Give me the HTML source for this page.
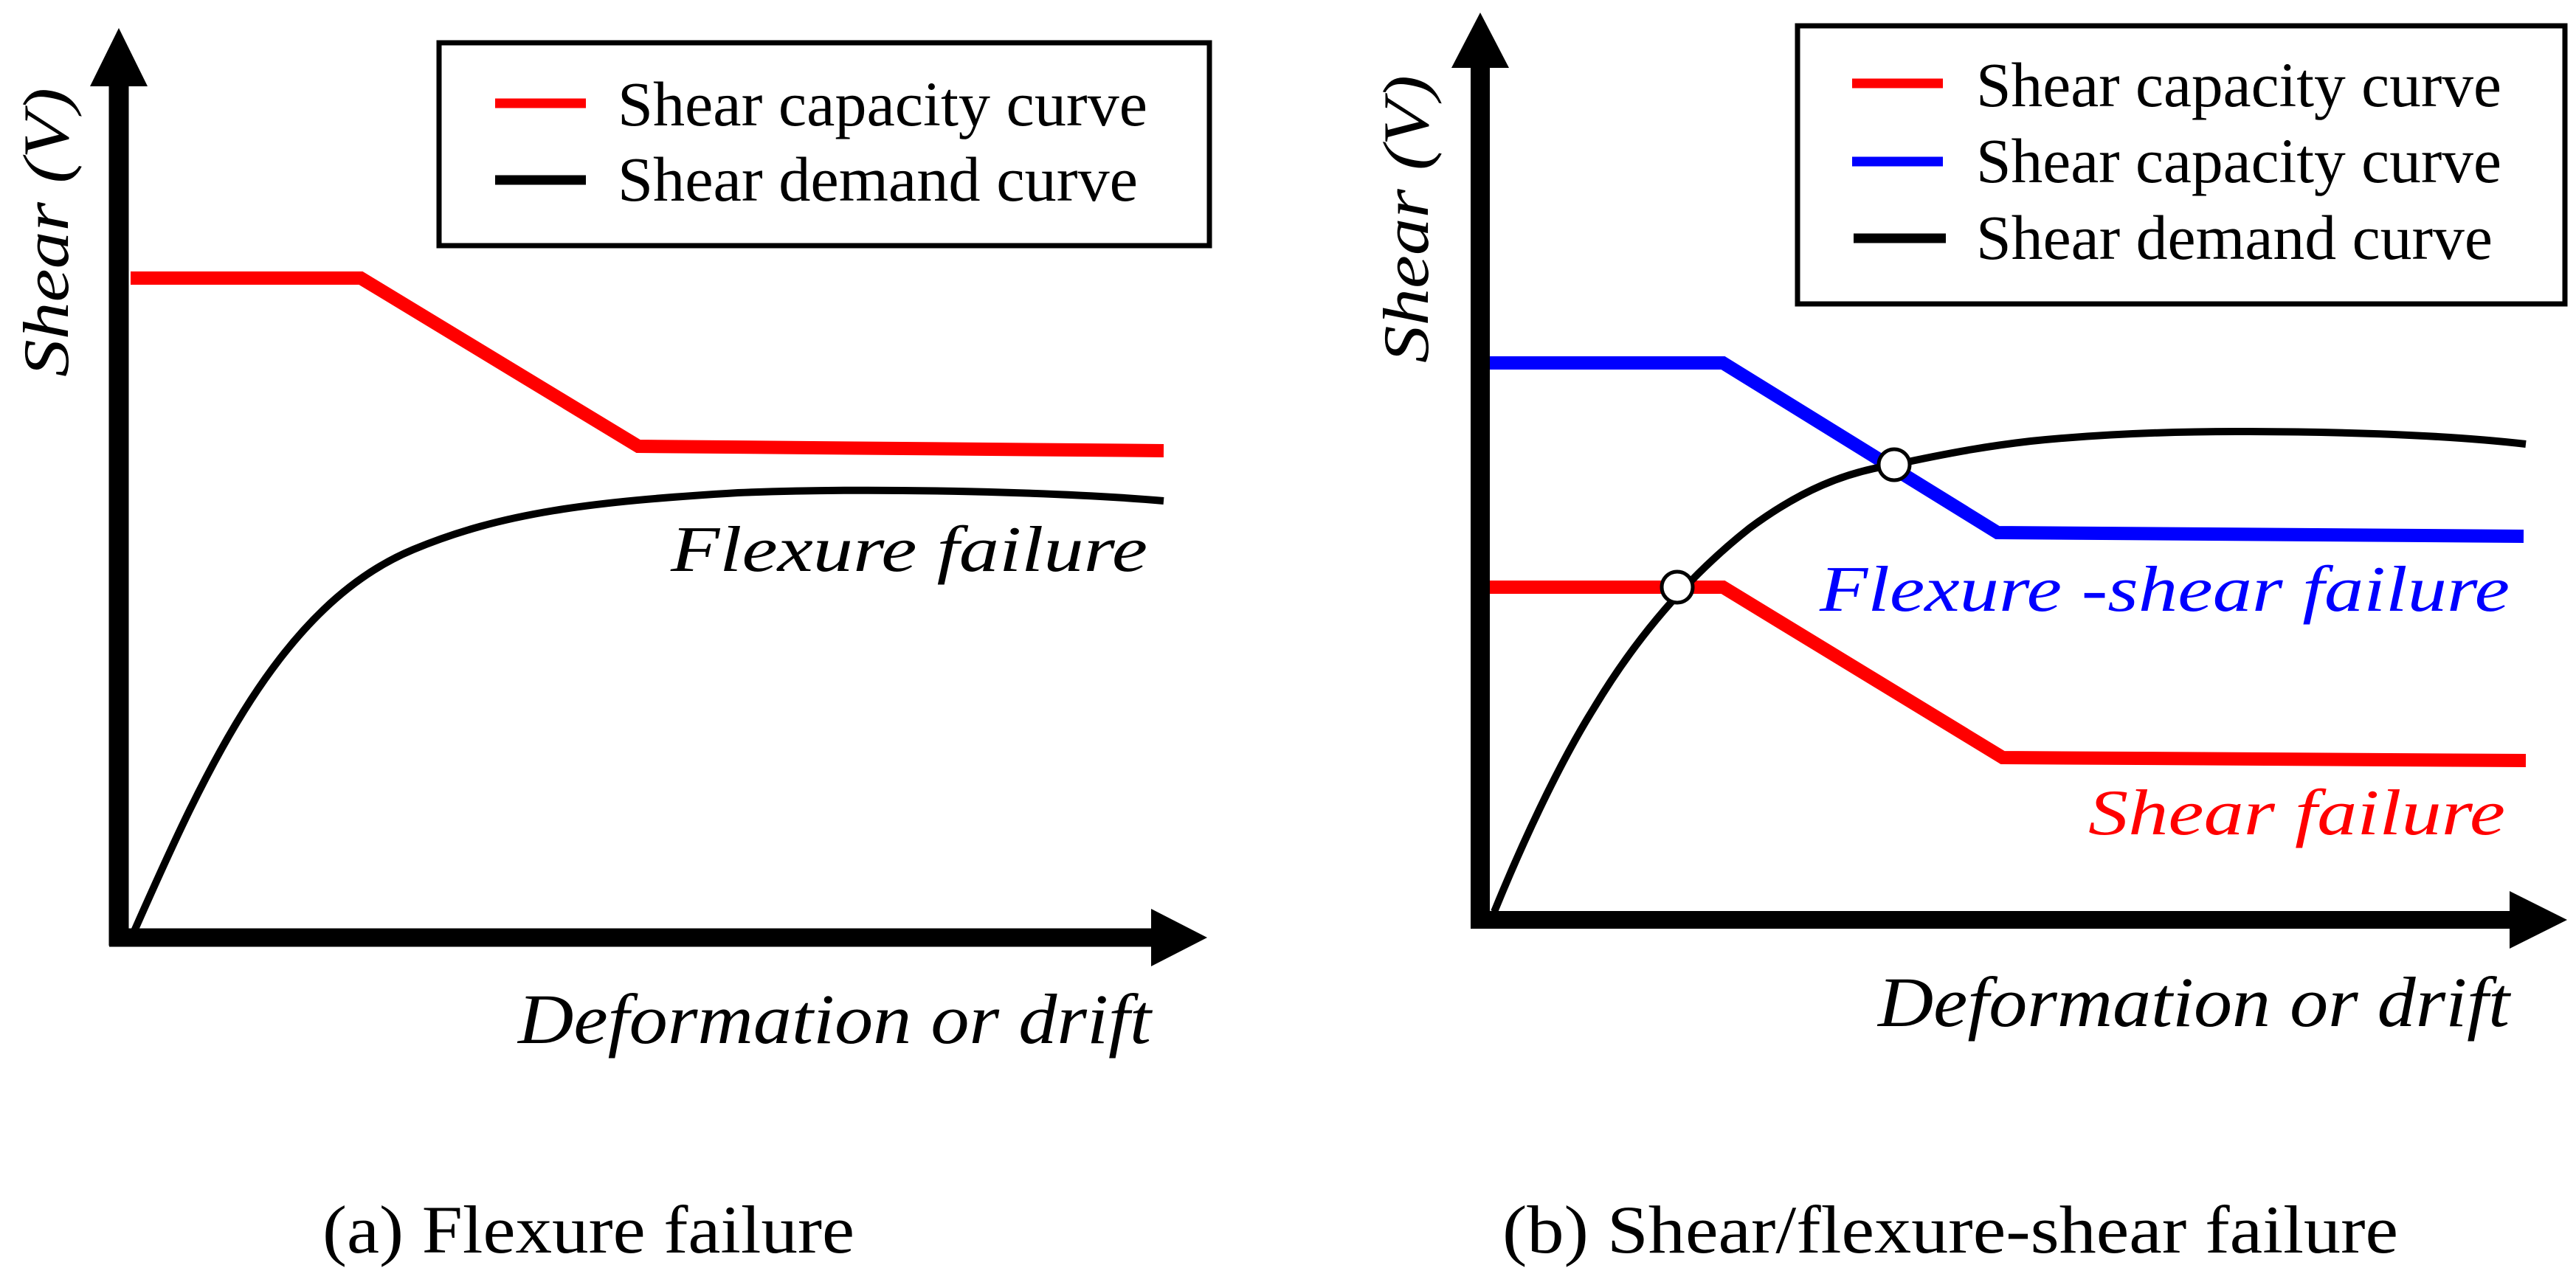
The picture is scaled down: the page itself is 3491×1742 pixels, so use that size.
<!DOCTYPE html>
<html><head><meta charset="utf-8"><style>
html,body{margin:0;padding:0;background:#fff;}
svg{display:block;}
text{font-family:"Liberation Serif","Times New Roman",serif;}
.it{font-style:italic;}
</style></head><body>
<svg width="3491" height="1742" viewBox="0 0 3491 1742" xmlns="http://www.w3.org/2000/svg" font-family="Liberation Serif, serif">
<!-- Panel A -->
<rect x="595" y="58" width="1044" height="275" fill="none" stroke="#000" stroke-width="7"/>
<line x1="671" y1="140" x2="794" y2="140" stroke="#f00" stroke-width="13"/>
<line x1="671" y1="244" x2="794" y2="244" stroke="#000" stroke-width="13"/>
<text x="837" y="170" font-size="86" textLength="718" lengthAdjust="spacingAndGlyphs">Shear capacity curve</text>
<text x="837" y="272" font-size="86" textLength="705" lengthAdjust="spacingAndGlyphs">Shear demand curve</text>

<polyline points="177,377 489,377 865,605 1577,611" fill="none" stroke="#f00" stroke-width="18"/>
<path d="M182,1262 C280,1040 380,820 560,745 C680,695 800,680 1000,668 C1200,660 1450,668 1577,679" fill="none" stroke="#000" stroke-width="10"/>

<line x1="161" y1="110" x2="161" y2="1282" stroke="#000" stroke-width="27"/>
<polygon points="161,38 122,117 200,117" fill="#000"/>
<line x1="148" y1="1271" x2="1565" y2="1271" stroke="#000" stroke-width="25"/>
<polygon points="1636,1271 1560,1232 1560,1310" fill="#000"/>

<text class="it" x="909" y="774" font-size="88" textLength="646" lengthAdjust="spacingAndGlyphs">Flexure  failure</text>
<text class="it" x="702" y="1414" font-size="96" textLength="858" lengthAdjust="spacingAndGlyphs">Deformation or drift</text>
<text class="it" transform="translate(92,511) rotate(-90)" x="0" y="0" font-size="88" textLength="392" lengthAdjust="spacingAndGlyphs">Shear (V)</text>
<text x="437" y="1698" font-size="92" textLength="721" lengthAdjust="spacingAndGlyphs">(a) Flexure failure</text>

<!-- Panel B -->
<rect x="2436" y="35" width="1040" height="377" fill="none" stroke="#000" stroke-width="7"/>
<line x1="2510" y1="113" x2="2633" y2="113" stroke="#f00" stroke-width="13"/>
<line x1="2510" y1="219" x2="2633" y2="219" stroke="#00f" stroke-width="13"/>
<line x1="2512" y1="323" x2="2637" y2="323" stroke="#000" stroke-width="13"/>
<text x="2678" y="144" font-size="86" textLength="712" lengthAdjust="spacingAndGlyphs">Shear capacity curve</text>
<text x="2678" y="247" font-size="86" textLength="712" lengthAdjust="spacingAndGlyphs">Shear capacity curve</text>
<text x="2678" y="351" font-size="86" textLength="700" lengthAdjust="spacingAndGlyphs">Shear demand curve</text>

<polyline points="2014,492 2335,492 2707,722 3420,727" fill="none" stroke="#00f" stroke-width="18"/>
<polyline points="2011,796 2335,796 2714,1027 3423,1031" fill="none" stroke="#f00" stroke-width="18"/>
<path d="M2025,1236 C2060,1150 2110,1040 2160,960 C2220,860 2290,780 2371,716 C2440,665 2500,640 2567,630 C2650,612 2700,604 2752,598 C2850,588 2950,585 3031,585 C3150,585 3300,588 3423,602" fill="none" stroke="#000" stroke-width="10"/>
<circle cx="2273" cy="796" r="21" fill="#fff" stroke="#000" stroke-width="5"/>
<circle cx="2567" cy="630" r="21" fill="#fff" stroke="#000" stroke-width="5"/>

<line x1="2006" y1="88" x2="2006" y2="1258" stroke="#000" stroke-width="26"/>
<polygon points="2006,17 1967,92 2045,92" fill="#000"/>
<line x1="1993" y1="1247" x2="3405" y2="1247" stroke="#000" stroke-width="24"/>
<polygon points="3479,1247 3401,1208 3401,1286" fill="#000"/>

<text class="it" fill="#00f" x="2466" y="828" font-size="88" textLength="935" lengthAdjust="spacingAndGlyphs">Flexure -shear  failure</text>
<text class="it" fill="#f00" x="2830" y="1131" font-size="88" textLength="565" lengthAdjust="spacingAndGlyphs">Shear  failure</text>
<text class="it" x="2545" y="1391" font-size="96" textLength="856" lengthAdjust="spacingAndGlyphs">Deformation or drift</text>
<text class="it" transform="translate(1935,492) rotate(-90)" x="0" y="0" font-size="88" textLength="390" lengthAdjust="spacingAndGlyphs">Shear (V)</text>
<text x="2036" y="1698" font-size="92" textLength="1214" lengthAdjust="spacingAndGlyphs">(b) Shear/flexure-shear failure</text>
</svg>
</body></html>
